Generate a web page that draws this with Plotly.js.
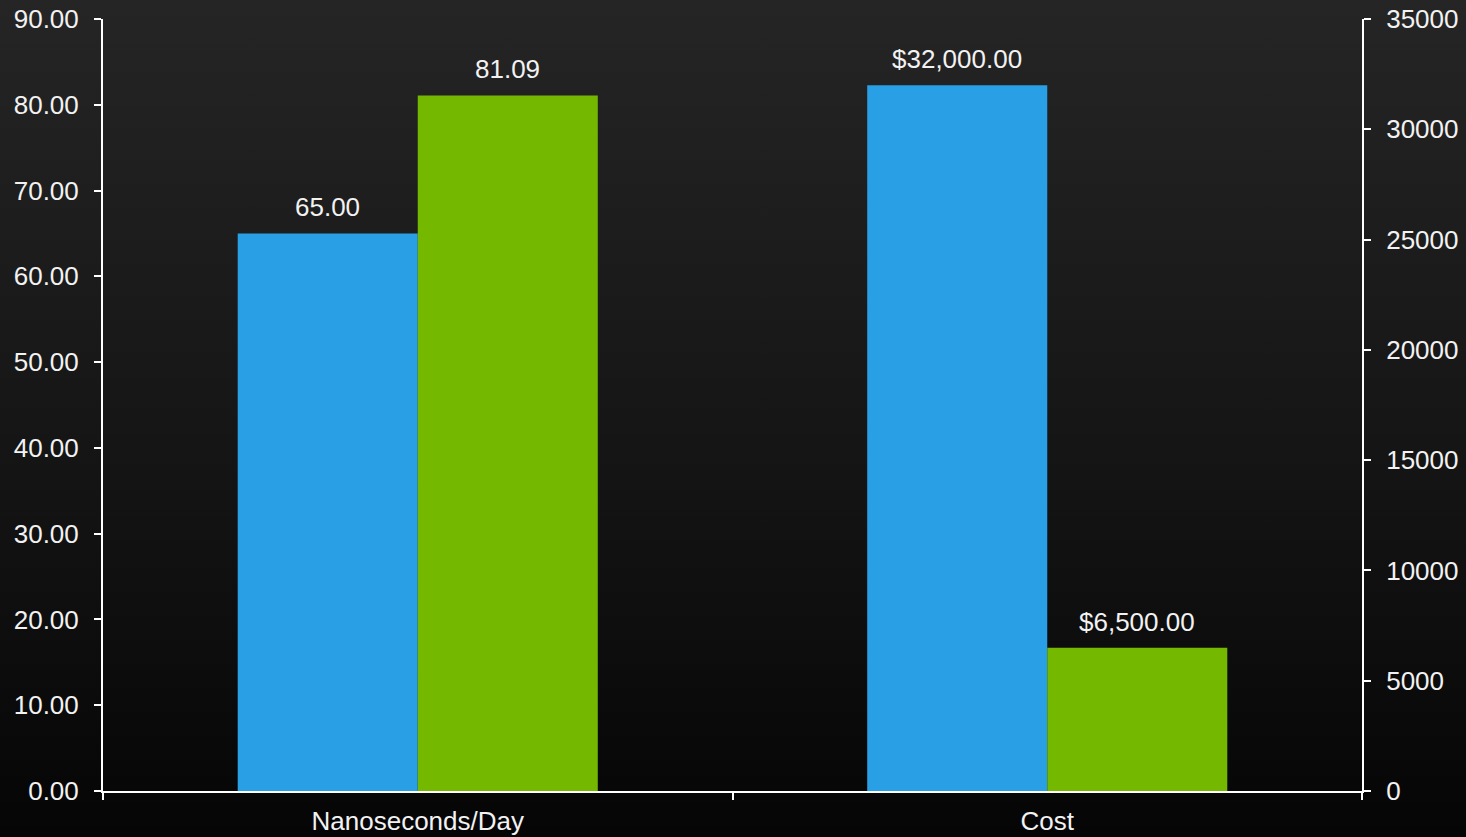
<!DOCTYPE html>
<html>
<head>
<meta charset="utf-8">
<script src="https://cdn.plot.ly/plotly-3.0.1.min.js"></script>
<style>
html,body{margin:0;padding:0;width:1466px;height:837px;overflow:hidden;
background:linear-gradient(to bottom,#252525 0%,#131313 60%,#050505 100%);}
#chart{width:1466px;height:837px;}
</style>
</head>
<body>
<div id="chart"></div>
<script>
const categories = ["Nanoseconds/Day", "Cost"];
const blueNs = 65.00;
const greenNs = 81.09;
const blueCost = 32000;
const greenCost = 6500;
const leftTicks = [0,10,20,30,40,50,60,70,80,90];
const rightTicks = [0,5000,10000,15000,20000,25000,30000,35000];

const BLUE = "#299FE5", GREEN = "#74B800";
const W = 0.286;
const tf = {family: "Liberation Sans, Arial, sans-serif", size: 26, color: "#f2f2f2"};
const fmtMoney = v => "$" + v.toLocaleString("en-US",{minimumFractionDigits:2, maximumFractionDigits:2});

const traces = [
  {type:"bar", x:[categories[0]], y:[blueNs], yaxis:"y", marker:{color:BLUE, line:{width:0}}, width:W, offset:-W, hoverinfo:"none"},
  {type:"bar", x:[categories[0]], y:[greenNs], yaxis:"y", marker:{color:GREEN, line:{width:0}}, width:W, offset:0, hoverinfo:"none"},
  {type:"bar", x:[categories[1]], y:[blueCost], yaxis:"y2", marker:{color:BLUE, line:{width:0}}, width:W, offset:-W, hoverinfo:"none"},
  {type:"bar", x:[categories[1]], y:[greenCost], yaxis:"y2", marker:{color:GREEN, line:{width:0}}, width:W, offset:0, hoverinfo:"none"}
];

function lab(cat, val, yref, txt, side){
  return {xref:"x", yref:yref, x:cat, y:val, text:txt, showarrow:false,
    xanchor:"center", yanchor:"middle", xshift: side*90, yshift:26, font:tf};
}

const layout = {
  width:1466, height:837,
  margin:{l:103, r:104, t:19, b:46, pad:0},
  paper_bgcolor:"rgba(0,0,0,0)", plot_bgcolor:"rgba(0,0,0,0)",
  showlegend:false,
  font:tf,
  annotations:[
    lab(categories[0], blueNs, "y", blueNs.toFixed(2), -1),
    lab(categories[0], greenNs, "y", greenNs.toFixed(2), 1),
    lab(categories[1], blueCost, "y2", fmtMoney(blueCost), -1),
    lab(categories[1], greenCost, "y2", fmtMoney(greenCost), 1)
  ],
  xaxis:{type:"category", categoryorder:"array", categoryarray:categories,
    showline:true, linecolor:"#ffffff", linewidth:2, ticks:"outside", tickson:"boundaries",
    ticklen:7, tickwidth:2, tickcolor:"#ffffff", showgrid:false, zeroline:false,
    tickfont:tf, ticklabelstandoff:6, fixedrange:true},
  yaxis:{range:[0,90], tickvals:leftTicks, tickformat:".2f", showline:true, linecolor:"#ffffff", linewidth:2,
    ticks:"outside", ticklen:7, tickwidth:2, tickcolor:"#ffffff", showgrid:false, zeroline:false,
    tickfont:tf, ticklabelstandoff:10},
  yaxis2:{range:[0,35000], tickvals:rightTicks, tickformat:"d", overlaying:"y", side:"right",
    showline:true, linecolor:"#ffffff", linewidth:2, ticks:"outside", ticklen:7, tickwidth:2, tickcolor:"#ffffff",
    showgrid:false, zeroline:false, tickfont:tf, ticklabelstandoff:10}
};

Plotly.newPlot("chart", traces, layout, {staticPlot:true});
</script>
</body>
</html>
